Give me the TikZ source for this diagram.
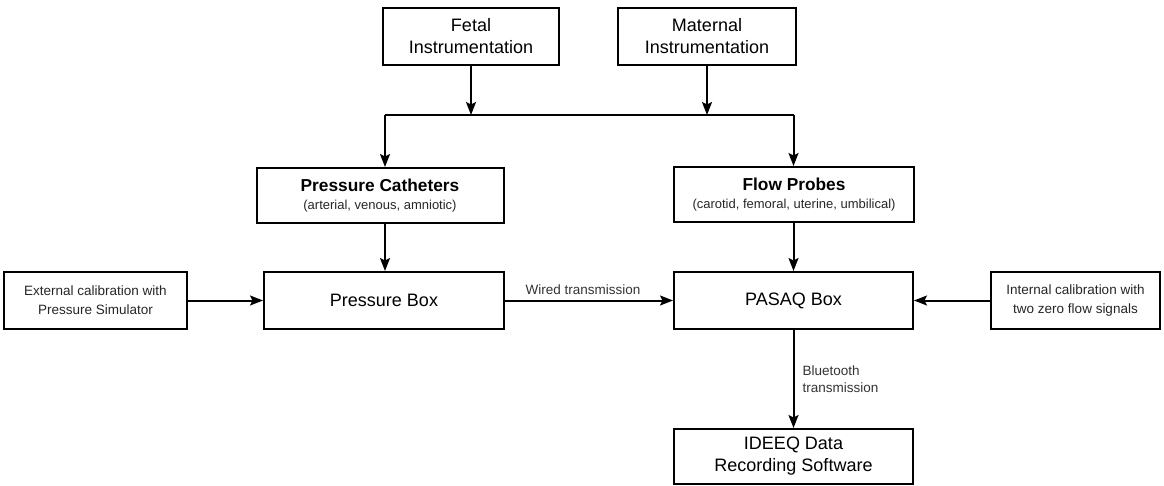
\documentclass[tikz,border=0pt]{standalone}
\usepackage{fontspec}
\setmainfont{Liberation Sans}
\usetikzlibrary{arrows.meta}
\begin{document}
\begin{tikzpicture}[x=1pt,y=-1pt,
  box/.style={draw, line width=2pt, inner sep=0pt, align=center,
    font=\fontsize{18}{22}\selectfont},
  smallbox/.style={box, font=\fontsize{13.5}{19}\selectfont\color{black!85}},
  arr/.style={line width=2pt, -{Stealth[length=13pt,width=10pt,inset=2.5pt]}},
  wire/.style={line width=2pt},
  lbl/.style={font=\fontsize{13.5}{17}\selectfont\color{black!80}, inner sep=0pt}]
\useasboundingbox (0,0) rectangle (1164,486);

% sources
\node[box, minimum width=176, minimum height=57] (fetal) at (471,36.5) {Fetal\\Instrumentation};
\node[box, minimum width=178, minimum height=57] (maternal) at (707,36.5) {Maternal\\Instrumentation};

% sensors
\node[box, minimum width=247, minimum height=55] (cath) at (380,195.5)
  {\fontsize{17.3}{22}\selectfont\bfseries Pressure Catheters\\[-4pt]{\fontsize{13}{15}\selectfont\mdseries\color{black!85}(arterial, venous, amniotic)}};
\node[box, minimum width=240, minimum height=55] (flow) at (794,194.5)
  {\fontsize{17.3}{22}\selectfont\bfseries Flow Probes\\[-4pt]{\fontsize{13}{15}\selectfont\mdseries\color{black!85}(carotid, femoral, uterine, umbilical)}};

% acquisition
\node[box, minimum width=240, minimum height=57] (pbox) at (384,300.5) {Pressure Box};
\node[box, minimum width=239, minimum height=57] (pasaq) at (793.5,300.5) {PASAQ Box};
\node[smallbox, minimum width=183, minimum height=57] (ext) at (95.5,300.5)
  {External calibration with\\Pressure Simulator};
\node[smallbox, minimum width=169, minimum height=57] (int) at (1075.5,300.5)
  {Internal calibration with\\two zero flow signals};
\node[box, minimum width=239, minimum height=55] (ideeq) at (793.5,456.5)
  {IDEEQ Data\\Recording Software};

% distribution bus
\coordinate (busL) at (385,115);
\coordinate (busR) at (793.5,115);
\draw[wire] (busL) -- (busR);
\draw[arr] (fetal.south) -- (fetal.south |- busL);
\draw[arr] (maternal.south) -- (maternal.south |- busL);
\draw[arr] (busL) -- (busL |- cath.north);
\draw[arr] (busR) -- (busR |- flow.north);

% signal paths
\draw[arr] (busL |- cath.south) -- (busL |- pbox.north);
\draw[arr] (busR |- flow.south) -- (busR |- pasaq.north);
\draw[arr] (ext) -- (pbox);
\draw[arr] (int) -- (pasaq);
\draw[arr] (pbox) -- (pasaq) node[lbl, midway, above=5pt, xshift=-6pt] (wired) {Wired transmission};
\draw[arr] (pasaq) -- (ideeq) node[lbl, midway, right=8pt, align=left] (bt) {Bluetooth\\transmission};
\end{tikzpicture}
\end{document}
